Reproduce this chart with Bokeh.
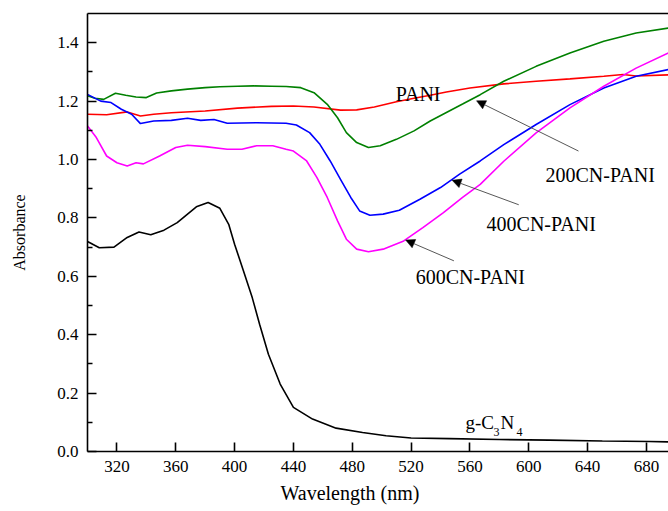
import math
from bokeh.plotting import figure
from bokeh.models import (Range1d, FixedTicker, LinearAxis, Label, Arrow,
                          NormalHead, PrintfTickFormatter, Title)
from bokeh.embed import file_html
from bokeh.resources import INLINE

# ---------------- data ----------------
wl_200 = [300, 305, 311, 319, 326, 333, 340, 347, 357, 368, 380, 390, 402, 413,
          425, 435, 445, 454, 463, 470, 476, 483, 491, 499, 510, 522, 533, 544,
          555, 567, 583, 605, 628, 651, 673, 695]
abs_200 = [1.218, 1.210, 1.206, 1.227, 1.220, 1.214, 1.212, 1.228, 1.235, 1.241,
           1.246, 1.249, 1.251, 1.252, 1.251, 1.250, 1.246, 1.229, 1.189, 1.143,
           1.092, 1.058, 1.041, 1.047, 1.069, 1.098, 1.132, 1.161, 1.190, 1.222,
           1.268, 1.319, 1.365, 1.405, 1.433, 1.450]

wl_pani = [300, 313, 327, 336, 345, 357, 380, 402, 425, 440, 454, 472, 483, 495,
           510, 522, 533, 544, 560, 583, 605, 628, 651, 664, 673, 695]
abs_pani = [1.155, 1.153, 1.163, 1.149, 1.155, 1.160, 1.166, 1.176, 1.182, 1.183,
            1.180, 1.169, 1.170, 1.180, 1.198, 1.210, 1.220, 1.231, 1.245, 1.259,
            1.268, 1.276, 1.285, 1.291, 1.286, 1.290]

wl_400 = [300, 309, 316, 323, 330, 336, 345, 357, 368, 377, 386, 395, 415, 435,
          442, 451, 458, 465, 472, 479, 485, 492, 501, 512, 526, 540, 553, 567,
          583, 605, 628, 651, 673, 695]
abs_400 = [1.223, 1.200, 1.195, 1.172, 1.155, 1.123, 1.132, 1.134, 1.141, 1.134,
           1.137, 1.124, 1.126, 1.124, 1.118, 1.092, 1.052, 0.995, 0.932, 0.870,
           0.824, 0.809, 0.813, 0.826, 0.864, 0.904, 0.950, 0.995, 1.051, 1.120,
           1.188, 1.245, 1.285, 1.308]

wl_600 = [300, 306, 313, 320, 327, 333, 338, 349, 360, 368, 380, 395, 405, 415,
          426, 435, 440, 449, 456, 463, 470, 476, 483, 491, 501, 515, 528, 542,
          555, 567, 583, 605, 628, 651, 673, 695]
abs_600 = [1.115, 1.075, 1.012, 0.989, 0.978, 0.989, 0.985, 1.012, 1.041, 1.049,
           1.044, 1.035, 1.035, 1.047, 1.047, 1.035, 1.029, 0.995, 0.938, 0.870,
           0.790, 0.727, 0.693, 0.684, 0.693, 0.721, 0.767, 0.818, 0.870, 0.915,
           0.994, 1.091, 1.177, 1.251, 1.313, 1.365]

wl_gcn = [300, 308, 318, 327, 335, 343, 352, 361, 374, 382, 390, 396, 400, 406,
          412, 417, 423, 431, 440, 453, 469, 487, 503, 520, 546, 580, 614, 650,
          682, 695]
abs_gcn = [0.719, 0.698, 0.700, 0.733, 0.752, 0.742, 0.758, 0.784, 0.838, 0.853,
           0.833, 0.778, 0.710, 0.619, 0.527, 0.436, 0.333, 0.231, 0.151, 0.111,
           0.080, 0.065, 0.054, 0.046, 0.044, 0.041, 0.039, 0.036, 0.034, 0.033]

x_ticks = [320, 360, 400, 440, 480, 520, 560, 600, 640, 680]
y_ticks = [0.0, 0.2, 0.4, 0.6, 0.8, 1.0, 1.2, 1.4]
y_minor = [0.1, 0.3, 0.5, 0.7, 0.9, 1.1, 1.3]

x_title = "Wavelength (nm)"
y_title = "Absorbance"

# annotation texts / anchor positions (data units)
lab_names = ["PANI", "200CN-PANI", "400CN-PANI", "600CN-PANI"]
lab_x = [509.5, 611.4, 571.3, 523.1]
lab_y = [1.225, 0.947, 0.780, 0.598]

arr_x0 = [633.8, 593.2, 549.1]
arr_y0 = [1.029, 0.845, 0.653]
arr_x1 = [564.5, 547.9, 516.3]
arr_y1 = [1.201, 0.929, 0.724]

FONT = "Liberation Serif"

p = figure(width=668, height=511, x_range=Range1d(300, 695),
           y_range=Range1d(0, 1.5), output_backend="svg",
           toolbar_location=None, min_border_left=87, min_border_right=0,
           min_border_top=13, min_border_bottom=60, outline_line_color=None,
           background_fill_color="white", border_fill_color="white")
p.xgrid.visible = False
p.ygrid.visible = False

p.line(wl_gcn, abs_gcn, line_color="black", line_width=1.6)
p.line(wl_pani, abs_pani, line_color="#ff0000", line_width=1.6)
p.line(wl_200, abs_200, line_color="#008000", line_width=1.6)
p.line(wl_400, abs_400, line_color="#0000ff", line_width=1.6)
p.line(wl_600, abs_600, line_color="#ff00ff", line_width=1.6)

# axes
p.xaxis.ticker = FixedTicker(ticks=x_ticks)
p.yaxis.ticker = FixedTicker(ticks=y_ticks, minor_ticks=y_minor)
p.yaxis.formatter = PrintfTickFormatter(format="%.1f")
for ax in (p.xaxis[0], p.yaxis[0]):
    ax.axis_line_width = 1.6
    ax.axis_line_color = "black"
    ax.major_tick_line_width = 1.6
    ax.major_tick_line_color = "black"
    ax.minor_tick_line_width = 1.3
    ax.major_tick_in = 9
    ax.major_tick_out = 0
    ax.minor_tick_in = 5
    ax.minor_tick_out = 0
    ax.major_label_text_font = FONT
    ax.major_label_text_font_size = "17px"
    ax.major_label_text_color = "black"
    ax.major_label_standoff = 9
p.xaxis.minor_tick_line_color = None

# y title as the axis label
p.yaxis.axis_label = y_title
p.yaxis.axis_label_text_font = FONT
p.yaxis.axis_label_text_font_size = "16px"
p.yaxis.axis_label_text_font_style = "normal"
p.yaxis.axis_label_text_color = "black"
p.yaxis.axis_label_standoff = 26

top = LinearAxis(ticker=FixedTicker(ticks=[]), major_tick_in=0, major_tick_out=0,
                 minor_tick_in=0, minor_tick_out=0, major_label_standoff=0,
                 major_label_text_font_size="0px", axis_line_width=1.4,
                 axis_line_color="black")
p.add_layout(top, "above")

# x title
p.add_layout(Title(text=x_title, text_font=FONT, text_font_size="20px",
                   text_font_style="normal", align="left", offset=193,
                   standoff=11, text_color="black"), "below")

# curve labels
for name, lx, ly in zip(lab_names, lab_x, lab_y):
    p.add_layout(Label(x=lx, y=ly, text=name, text_font=FONT,
                       text_font_size="20px", text_align="left",
                       text_baseline="alphabetic", text_color="black"))

# g-C3N4 with subscripts
gx, gy = 557.0, 0.098
for txt, dx, dy, fs in [("g-C", 0, 0, "19px"), ("3", 28, -9, "12px"),
                        ("N", 35, 0, "19px"), ("4", 51, -9, "12px")]:
    p.add_layout(Label(x=gx, y=gy, x_offset=dx, y_offset=dy, text=txt,
                       text_font=FONT, text_font_size=fs, text_align="left",
                       text_baseline="alphabetic", text_color="black"))

# arrows
for x0, y0, x1, y1 in zip(arr_x0, arr_y0, arr_x1, arr_y1):
    p.add_layout(Arrow(x_start=x0, y_start=y0, x_end=x1, y_end=y1,
                       line_color="#444444", line_width=0.9,
                       end=NormalHead(size=9, fill_color="black",
                                      line_color="black", line_width=0.5)))

open("out.html", "w").write(file_html(p, INLINE))
